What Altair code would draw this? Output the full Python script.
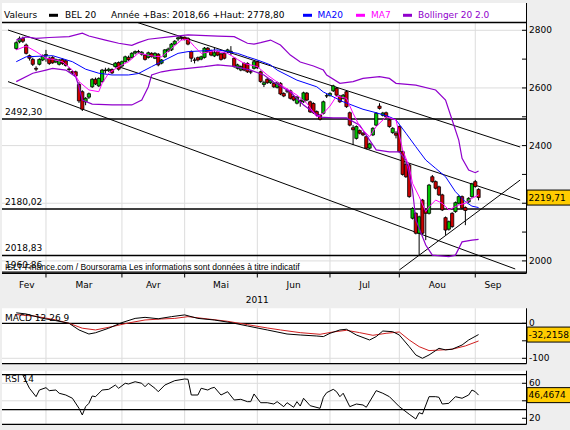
import altair as alt
import pandas as pd

# ---------------- data ----------------
# trading-day index: 0 = 1 Mar 2011
day = list(range(-9, 132))
open_ = [2737, 2760, 2772, 2749, 2712, 2699, 2668, 2682, 2697, 2712,
         2703, 2706, 2690, 2682, 2699, 2694, 2666, 2657, 2656, 2612,
         2587, 2552, 2568, 2604, 2630, 2607, 2622, 2662, 2660, 2664,
         2674, 2688, 2676, 2691, 2706, 2706, 2721, 2726, 2717, 2714,
         2706, 2720, 2703, 2717, 2686, 2708, 2728, 2732, 2752, 2770,
         2775, 2776, 2772, 2726, 2697, 2705, 2700, 2706, 2738, 2729,
         2711, 2726, 2718, 2720, 2725, 2726, 2703, 2668, 2662, 2685,
         2685, 2656, 2668, 2691, 2656, 2612, 2630, 2618, 2616, 2602,
         2616, 2581, 2590, 2590, 2570, 2547, 2556, 2552, 2582, 2552,
         2546, 2518, 2506, 2512, 2572, 2574, 2590, 2599, 2572, 2564,
         2587, 2514, 2462, 2425, 2452, 2443, 2431, 2391, 2437, 2471,
         2537, 2505, 2514, 2489, 2445, 2443, 2466, 2379, 2335, 2333,
         2148, 2165, 2096, 2211, 2177, 2165, 2292, 2275, 2257, 2229,
         2150, 2110, 2165, 2171, 2200, 2223, 2185, 2205, 2223, 2275, 2248]
close = [2757, 2772, 2762, 2720, 2703, 2682, 2665, 2699, 2711, 2716,
         2685, 2687, 2698, 2697, 2685, 2678, 2664, 2652, 2642, 2555,
         2526, 2564, 2580, 2630, 2614, 2633, 2662, 2660, 2665, 2652,
         2686, 2665, 2691, 2708, 2698, 2720, 2726, 2725, 2724, 2699,
         2722, 2709, 2720, 2680, 2697, 2732, 2735, 2752, 2762, 2774,
         2772, 2769, 2752, 2703, 2696, 2697, 2708, 2738, 2726, 2714,
         2722, 2714, 2699, 2703, 2732, 2727, 2674, 2680, 2674, 2662,
         2656, 2655, 2691, 2670, 2622, 2618, 2618, 2627, 2604, 2618,
         2579, 2572, 2589, 2564, 2558, 2568, 2552, 2583, 2558, 2517,
         2514, 2506, 2491, 2552, 2573, 2581, 2607, 2575, 2552, 2575,
         2535, 2471, 2455, 2466, 2443, 2437, 2391, 2406, 2460, 2512,
         2529, 2513, 2500, 2466, 2460, 2436, 2379, 2300, 2292, 2223,
         2182, 2096, 2153, 2096, 2165, 2263, 2275, 2252, 2229, 2177,
         2107, 2136, 2119, 2202, 2223, 2183, 2175, 2217, 2267, 2258, 2219.71]
high = [2762, 2778.8, 2778, 2754, 2716, 2705, 2675, 2703, 2716, 2732,
        2708, 2710, 2702, 2700, 2703, 2698, 2672, 2662, 2660, 2620,
        2592, 2568, 2584, 2634, 2636, 2637, 2666, 2670, 2670, 2668,
        2690, 2692, 2695, 2712, 2712, 2724, 2730, 2732, 2728, 2718,
        2726, 2724, 2724, 2721, 2700, 2735, 2740, 2756, 2766, 2778.8,
        2778, 2778, 2776, 2730, 2705, 2709, 2712, 2742, 2742, 2733,
        2740, 2730, 2722, 2724, 2736, 2745, 2707, 2684, 2678, 2689,
        2689, 2662, 2695, 2695, 2660, 2625, 2634, 2631, 2620, 2622,
        2620, 2585, 2598, 2594, 2574, 2572, 2560, 2587, 2586, 2556,
        2550, 2522, 2510, 2556, 2580, 2585, 2611, 2603, 2576, 2579,
        2591, 2518, 2471, 2470, 2456, 2447, 2435, 2410, 2464, 2516,
        2547, 2517, 2518, 2493, 2464, 2450, 2470, 2383, 2339, 2337,
        2186, 2169, 2157, 2215, 2181, 2267, 2298, 2279, 2261, 2233,
        2154, 2140, 2169, 2206, 2227, 2227, 2189, 2221, 2271, 2281, 2252]
low = [2732, 2755, 2756, 2716, 2695, 2676, 2658, 2678, 2693, 2691,
       2680, 2684, 2686, 2678, 2680, 2674, 2655, 2648, 2638, 2548,
       2520, 2540, 2562, 2600, 2610, 2603, 2618, 2650, 2655, 2648,
       2670, 2660, 2672, 2688, 2694, 2702, 2716, 2720, 2712, 2695,
       2702, 2705, 2700, 2675, 2682, 2704, 2724, 2728, 2748, 2762,
       2766, 2765, 2748, 2690, 2685, 2692, 2696, 2702, 2722, 2710,
       2707, 2710, 2695, 2699, 2721, 2714, 2670, 2664, 2658, 2658,
       2652, 2648, 2664, 2666, 2618, 2603, 2614, 2614, 2600, 2598,
       2575, 2568, 2582, 2560, 2554, 2543, 2535, 2548, 2554, 2513,
       2510, 2502, 2487, 2508, 2565, 2570, 2586, 2571, 2548, 2560,
       2531, 2467, 2402, 2421, 2439, 2433, 2387, 2387, 2433, 2467,
       2525, 2501, 2496, 2462, 2441, 2425, 2375, 2296, 2288, 2219,
       2144, 2092, 2018.66, 2092, 2072, 2161, 2271, 2248, 2225, 2173,
       2090, 2105, 2115, 2167, 2196, 2179, 2124, 2201, 2219, 2254, 2210]

ma20_day = [-9, -6, 2, 8, 12, 16, 20, 25, 28, 32, 36, 40, 43, 48, 52, 55, 58, 61, 64, 68,
            70, 76, 82, 84, 90, 96, 100, 104, 106, 109, 112, 115, 118, 121, 124, 127, 129, 131]
ma20_val = [2691, 2708, 2712, 2691, 2665, 2651, 2645, 2645, 2650, 2674, 2697, 2720, 2726, 2729,
            2732, 2726, 2720, 2708, 2697, 2680, 2662, 2627, 2604, 2586, 2552, 2526, 2514, 2500,
            2489, 2443, 2396, 2350, 2321, 2292, 2240, 2205, 2190, 2185]

ma7_day = [-9, -6, -3, 0, 2, 5, 8, 10, 13, 16, 17, 19, 22, 25, 28, 32, 35, 38, 41, 43,
           45, 47, 51, 55, 58, 60, 64, 67, 72, 76, 79, 82, 84, 86, 88, 91, 93, 95, 98, 100,
           103, 106, 108, 110, 111, 113, 115, 116, 118, 120, 122, 125, 127, 129, 131]
ma7_val = [2732, 2745, 2726, 2703, 2699, 2691, 2662, 2622, 2593, 2587, 2616, 2651, 2674, 2691,
           2721, 2711, 2708, 2737, 2766, 2769, 2743, 2720, 2729, 2720, 2699, 2685, 2674, 2645,
           2604, 2575, 2547, 2500, 2512, 2537, 2572, 2564, 2512, 2466, 2431, 2466, 2500, 2489,
           2385, 2327, 2269, 2223, 2171, 2188, 2211, 2200, 2177, 2194, 2200, 2217, 2229]

bb_up_day = [-9, -6, -3, 1, 7, 11, 13, 18, 22, 26, 28, 31, 38, 43, 52, 57, 61, 63, 65, 68,
             71, 74, 77, 81, 84, 85, 89, 93, 96, 101, 104, 106, 112, 118, 121, 123, 125, 126,
             128, 130, 131]
bb_up_val = [2766, 2777, 2772, 2775, 2778, 2790, 2780, 2766, 2755, 2748, 2757, 2769, 2778, 2784,
             2780, 2778, 2755, 2752, 2757, 2766, 2749, 2714, 2690, 2676, 2662, 2645, 2616, 2622,
             2633, 2639, 2633, 2616, 2610, 2593, 2558, 2489, 2419, 2356, 2315, 2306, 2312]

bb_lo_day = [-9, -4, 0, 2, 6, 9, 10, 11, 14, 20, 26, 29, 31, 32, 35, 38, 43, 48, 52, 57,
             62, 66, 69, 74, 78, 83, 87, 91, 95, 98, 100, 104, 107, 109, 111, 112, 115, 117,
             122, 124, 126, 129, 131]
bb_lo_val = [2622, 2651, 2662, 2668, 2662, 2639, 2604, 2558, 2544, 2541, 2541, 2558, 2604, 2645,
             2656, 2662, 2668, 2674, 2680, 2675, 2662, 2645, 2620, 2586, 2541, 2499, 2496, 2496,
             2471, 2419, 2385, 2378, 2378, 2350, 2246, 2142, 2055, 2020, 2015, 2020, 2066, 2072,
             2075]

macd_day = [-9, -6, -1, 3, 7, 10, 13, 15, 19, 23, 27, 30, 34, 38, 42, 46, 51, 56, 61, 67,
            73, 77, 82, 84, 86, 89, 91, 94, 98, 100, 102, 105, 107, 110, 112, 114, 116, 118,
            119, 121, 123, 126, 128, 131]
macd_val = [30, 26.6, 14, 7.6, 0, -19, -30.6, -27, -14, 2, 14, 17, 13, 19, 24, 14, 9.4, 2,
            -7.6, -19, -30.6, -33.4, -36.3, -38, -28.6, -19, -17, -33.4, -47.7, -38, -22, -24,
            -33.4, -66.7, -90.5, -100, -90.5, -78, -71.4, -76, -74, -62, -47.7, -32.2158]

sig_day = [-9, -3, 3, 7, 11, 15, 20, 25, 30, 35, 39, 43, 49, 55, 61, 67, 71, 77, 83, 87,
           91, 95, 99, 103, 107, 110, 113, 116, 120, 123, 127, 131]
sig_val = [25, 20, 9.5, 0, -14, -19, -9.5, 1, 9.5, 12.4, 14, 19, 12.4, 5.7, -3.8, -13.3, -19,
           -26.7, -31.4, -24.7, -20, -26.7, -34.3, -28.6, -24.8, -47.7, -66.7, -78, -76, -74,
           -64.7, -50.5]

rsi_day = [-7, -5, -3, -2, 0, 1, 3, 4, 6, 8, 10, 11, 12, 13, 14, 15, 17, 19, 21, 22,
           24, 25, 27, 29, 30, 31, 33, 34, 36, 39, 42, 43, 44, 46, 47, 49, 50, 51, 53, 55,
           57, 59, 61, 62, 63, 65, 67, 69, 70, 72, 73, 75, 76, 77, 78, 80, 83, 84, 85, 87,
           88, 89, 90, 92, 94, 96, 97, 100, 102, 104, 107, 110, 112, 113, 114, 116, 118, 119,
           120, 122, 124, 126, 128, 129, 130, 131]
rsi_val = [69.5, 54.3, 44.7, 52.3, 55, 51.6, 52.3, 48.6, 46.6, 42.9, 31.4, 23.8, 33.3, 37.1,
           45.5, 44.7, 52.3, 53.1, 58, 54.3, 60, 59.2, 61.8, 60, 56.1, 60, 54.3, 50.4, 58, 63,
           64.9, 64.6, 46.6, 46.6, 54.3, 52.3, 54.3, 55.4, 46.6, 50.4, 40.9, 41.7, 39, 39, 47.8,
           37.8, 37.8, 36.3, 39, 33.3, 37.8, 32.6, 39, 34, 42.9, 34.4, 31.4, 44, 49.3, 53.1,
           50.4, 44.7, 48.6, 33.3, 36.3, 35.2, 32.6, 51.6, 48.6, 44.7, 33.3, 24.6, 19.2, 26.4,
           24.9, 44.7, 44.7, 44, 36.3, 37.1, 44.7, 42.9, 46.6, 52.3, 50.4, 46.4674]

month_start_day = [0, 23, 42, 64, 86, 107, 130]
month_label = ["Fev", "Mar", "Avr", "Mai", "Jun", "Jul", "Aou", "Sep"]
month_label_day = [-5.8, 11.5, 32.5, 53, 75, 96.5, 118.5, 135.4]
year_label = ["2011"]
year_label_day = [64]

level_value = [2492.30, 2180.02, 2018.83, 1960.86]
level_text = ["2492,30", "2180,02", "2018,83", "1960,86"]

trend_id = ["A", "A", "B", "B", "C", "C", "D", "D"]
trend_day = [-11.5, 143.6, 27.7, 143.6, -11.5, 142.1, 107.0, 143.6]
trend_val = [2801, 2211, 2827, 2395, 2622, 1972, 1968.5, 2280.6]

price_grid = [2000, 2200, 2400, 2600, 2800]
price_minor = [2100, 2300, 2500, 2700]
price_label_vals = [2000, 2400, 2600, 2800]      # 2200 sits under the last-value box
price_labels = ["2000", "2400", "2600", "2800"]
macd_ticks = [0, -50, -100]
macd_label_vals = [0, -100]
macd_labels = ["0", "-100"]
macd_grid = [-100]
rsi_ticks = [20, 40, 60]
rsi_label_vals = [20, 60]
rsi_labels = ["20", "60"]
rsi_grid = [60, 40]
rsi_bounds = [70, 30]

last_price = [2219.71]; last_price_txt = ["2219,71"]
last_macd = [-32.2158]; last_macd_txt = ["-32,2158"]
last_rsi = [46.4674]; last_rsi_txt = ["46,4674"]

legend_title = "Valeurs"
series_name = "BEL 20"
range_text = "Année +Bas: 2018,66 +Haut: 2778,80"
footer = "ISLT-Finance.com / Boursorama Les informations sont données à titre indicatif"

# ---------------- styling / geometry ----------------
FONT = "DejaVu Sans"
GREEN, RED = "#00C400", "#CC0000"
BLUE, MAGENTA, PURPLE = "#0000FF", "#FF00FF", "#9000CC"
GRID = "#DCDCDC"
L, PR = 2, 526.5
STRIP_TOP, MAIN_TOP, MAIN_BOT = 3, 22.5, 273.3
MACD_TOP, MACD_BOT = 308.3, 363.7
RSI_TOP, RSI_BOT = 370.7, 424.3

XS = alt.Scale(domain=[-11.5, 144.0], range=[3, 526.5], nice=False, zero=False)
PS = alt.Scale(domain=[1957, 2827], range=[MAIN_BOT, MAIN_TOP], nice=False, zero=False)
MS = alt.Scale(domain=[-116, 43], range=[363.9, 308.25], nice=False, zero=False)
RS = alt.Scale(domain=[13, 74.4], range=[424.4, 370.7], nice=False, zero=False)

def one():
    return pd.DataFrame({"k": [0]})

def X(f="d"):
    return alt.X(f"{f}:Q", scale=XS, axis=None)

def Y(sc, f="v"):
    return alt.Y(f"{f}:Q", scale=sc, axis=None)

def box(x1, x2, y1, y2, color):
    return alt.Chart(one()).mark_rect(color=color).encode(
        x=alt.value(x1), x2=alt.value(x2), y=alt.value(y1), y2=alt.value(y2))

def hline(y, x1, x2, color="black", w=1):
    return alt.Chart(one()).mark_rule(color=color, strokeWidth=w).encode(
        x=alt.value(x1), x2=alt.value(x2), y=alt.value(y))

def vline(x, y1, y2, color="black", w=1):
    return alt.Chart(one()).mark_rule(color=color, strokeWidth=w).encode(
        x=alt.value(x), y=alt.value(y1), y2=alt.value(y2))

def label(txt, x, y, color="black", size=9, align="left", font=FONT):
    return alt.Chart(one()).mark_text(text=txt, color=color, fontSize=size, font=font,
                                      align=align, baseline="middle").encode(
        x=alt.value(x), y=alt.value(y))

def series_line(days, vals, sc, color, w=1):
    df = pd.DataFrame({"d": days, "v": vals})
    return alt.Chart(df).mark_line(color=color, strokeWidth=w).encode(x=X(), y=Y(sc))

def level_rules(vals, sc, color, w, x1=L, x2=PR):
    df = pd.DataFrame({"v": vals})
    return alt.Chart(df).mark_rule(color=color, strokeWidth=w).encode(
        y=Y(sc), x=alt.value(x1), x2=alt.value(x2))

def vgrid(y1, y2):
    df = pd.DataFrame({"d": month_start_day})
    return alt.Chart(df).mark_rule(color=GRID, strokeWidth=1).encode(
        x=X(), y=alt.value(y1), y2=alt.value(y2))

def axis_ticks(vals, sc):
    df = pd.DataFrame({"v": vals})
    return alt.Chart(df).mark_rule(color="black", strokeWidth=1).encode(
        y=Y(sc), x=alt.value(522), x2=alt.value(PR))

def axis_labels(vals, texts, sc):
    df = pd.DataFrame({"v": vals, "t": texts})
    return alt.Chart(df).mark_text(fontSize=9, font=FONT, align="left", baseline="middle",
                                   color="black").encode(y=Y(sc), x=alt.value(529), text="t:N")

def last_box(vals, texts, sc):
    df = pd.DataFrame({"v": vals, "t": texts})
    b = alt.Chart(df).mark_tick(orient="horizontal", thickness=15, size=46, color="#FFCC00",
                                stroke="black", strokeWidth=1, opacity=1).encode(
        y=Y(sc), x=alt.value(550))
    t = alt.Chart(df).mark_text(fontSize=9, font=FONT, align="left", baseline="middle",
                                color="black").encode(y=Y(sc), x=alt.value(528.5), text="t:N")
    return [b, t]

layers = []
# panel backgrounds
layers += [box(L, PR, STRIP_TOP, MAIN_BOT, "white"),
           box(L, PR, MACD_TOP, MACD_BOT, "white"),
           box(L, PR, RSI_TOP, RSI_BOT, "white")]
# grids
layers += [vgrid(MAIN_TOP, MAIN_BOT), vgrid(MACD_TOP, MACD_BOT), vgrid(RSI_TOP, RSI_BOT)]
layers += [level_rules(price_grid, PS, GRID, 1), level_rules(macd_grid, MS, GRID, 1),
           level_rules(rsi_grid, RS, GRID, 1)]
# horizontal price levels
layers.append(level_rules(level_value, PS, "black", 1.3))
# trend lines
tdf = pd.DataFrame({"id": trend_id, "d": trend_day, "v": trend_val})
layers.append(alt.Chart(tdf).mark_line(color="black", strokeWidth=1).encode(
    x=X(), y=Y(PS), detail="id:N"))
# candles
cdf = pd.DataFrame({"d": day, "o": open_, "h": high, "l": low, "c": close})
cdf["dir"] = ["up" if c >= o else "down" for o, c in zip(open_, close)]
layers.append(alt.Chart(cdf).mark_rule(color="black", strokeWidth=1).encode(
    x=X(), y=Y(PS, "l"), y2="h:Q"))
layers.append(alt.Chart(cdf).mark_bar(size=3.2, stroke="black", strokeWidth=0.8).encode(
    x=X(), y=Y(PS, "o"), y2="c:Q",
    color=alt.Color("dir:N", scale=alt.Scale(domain=["up", "down"], range=[GREEN, RED]),
                    legend=None)))
# indicator lines on price
layers += [series_line(bb_up_day, bb_up_val, PS, PURPLE, 1.2),
           series_line(bb_lo_day, bb_lo_val, PS, PURPLE, 1.2),
           series_line(ma20_day, ma20_val, PS, BLUE, 1),
           series_line(ma7_day, ma7_val, PS, MAGENTA, 1)]
# level labels
ldf = pd.DataFrame({"v": level_value, "t": level_text})
layers.append(alt.Chart(ldf).mark_text(fontSize=9, font=FONT, align="left", baseline="middle",
                                       dy=-7, color="black").encode(
    y=Y(PS), x=alt.value(5), text="t:N"))
layers.append(label(footer, 5, 266.5, size=8.5, font="Liberation Sans"))
# borders of main panel
layers += [hline(MAIN_TOP, L, PR, w=1.3), hline(MAIN_BOT, L, PR, w=1.3),
           vline(PR, STRIP_TOP, MAIN_BOT)]
# legend strip
layers += [label(legend_title, 4, 15.3),
           box(49, 58, 13.8, 16.8, "black"), label(series_name, 65, 15.3),
           label(range_text, 111, 15.3),
           box(303, 312, 13.8, 16.8, BLUE), label("MA20", 317.5, 15.3, color=BLUE),
           box(356, 365, 13.8, 16.8, MAGENTA), label("MA7", 371, 15.3, color=MAGENTA),
           box(403, 412, 13.8, 16.8, PURPLE), label("Bollinger 20 2.0", 418, 15.3, color=PURPLE)]
# price axis
layers += [axis_ticks(price_grid + price_minor, PS),
           axis_labels(price_label_vals, price_labels, PS)]
layers += last_box(last_price, last_price_txt, PS)
# x axis
xt = pd.DataFrame({"d": month_start_day})
layers.append(alt.Chart(xt).mark_rule(color="black").encode(
    x=X(), y=alt.value(MAIN_BOT), y2=alt.value(277.5)))
mdf = pd.DataFrame({"d": month_label_day, "t": month_label})
layers.append(alt.Chart(mdf).mark_text(fontSize=9, font=FONT, align="center",
                                       baseline="middle").encode(
    x=X(), y=alt.value(285), text="t:N"))
ydf = pd.DataFrame({"d": year_label_day, "t": year_label})
layers.append(alt.Chart(ydf).mark_text(fontSize=9, font=FONT, align="center",
                                       baseline="middle").encode(
    x=X(), y=alt.value(299.5), text="t:N"))
# MACD panel
layers += [level_rules([0], MS, "black", 1.2),
           series_line(sig_day, sig_val, MS, "#D02020", 1),
           series_line(macd_day, macd_val, MS, "black", 1),
           label("MACD 12 26 9", 5, 317.5),
           hline(MACD_BOT, L, PR, w=1.3), vline(PR, MACD_TOP, MACD_BOT),
           axis_ticks(macd_ticks, MS), axis_labels(macd_label_vals, macd_labels, MS)]
layers += last_box(last_macd, last_macd_txt, MS)
# RSI panel
layers += [level_rules(rsi_bounds, RS, "black", 1.2),
           series_line(rsi_day, rsi_val, RS, "black", 1),
           label("RSI 14", 5, 379),
           hline(RSI_BOT, L, PR, w=1.3), vline(PR, RSI_TOP, RSI_BOT),
           axis_ticks(rsi_ticks, RS), axis_labels(rsi_label_vals, rsi_labels, RS)]
layers += last_box(last_rsi, last_rsi_txt, RS)

chart = alt.layer(*layers).resolve_scale(y="independent").properties(
    width=570, height=430, padding=0, autosize=alt.AutoSizeParams(type="none")
).configure(background="#EEEEEE").configure_view(stroke=None)

chart.save("out.html", embed_options={"renderer": "svg", "actions": False})
